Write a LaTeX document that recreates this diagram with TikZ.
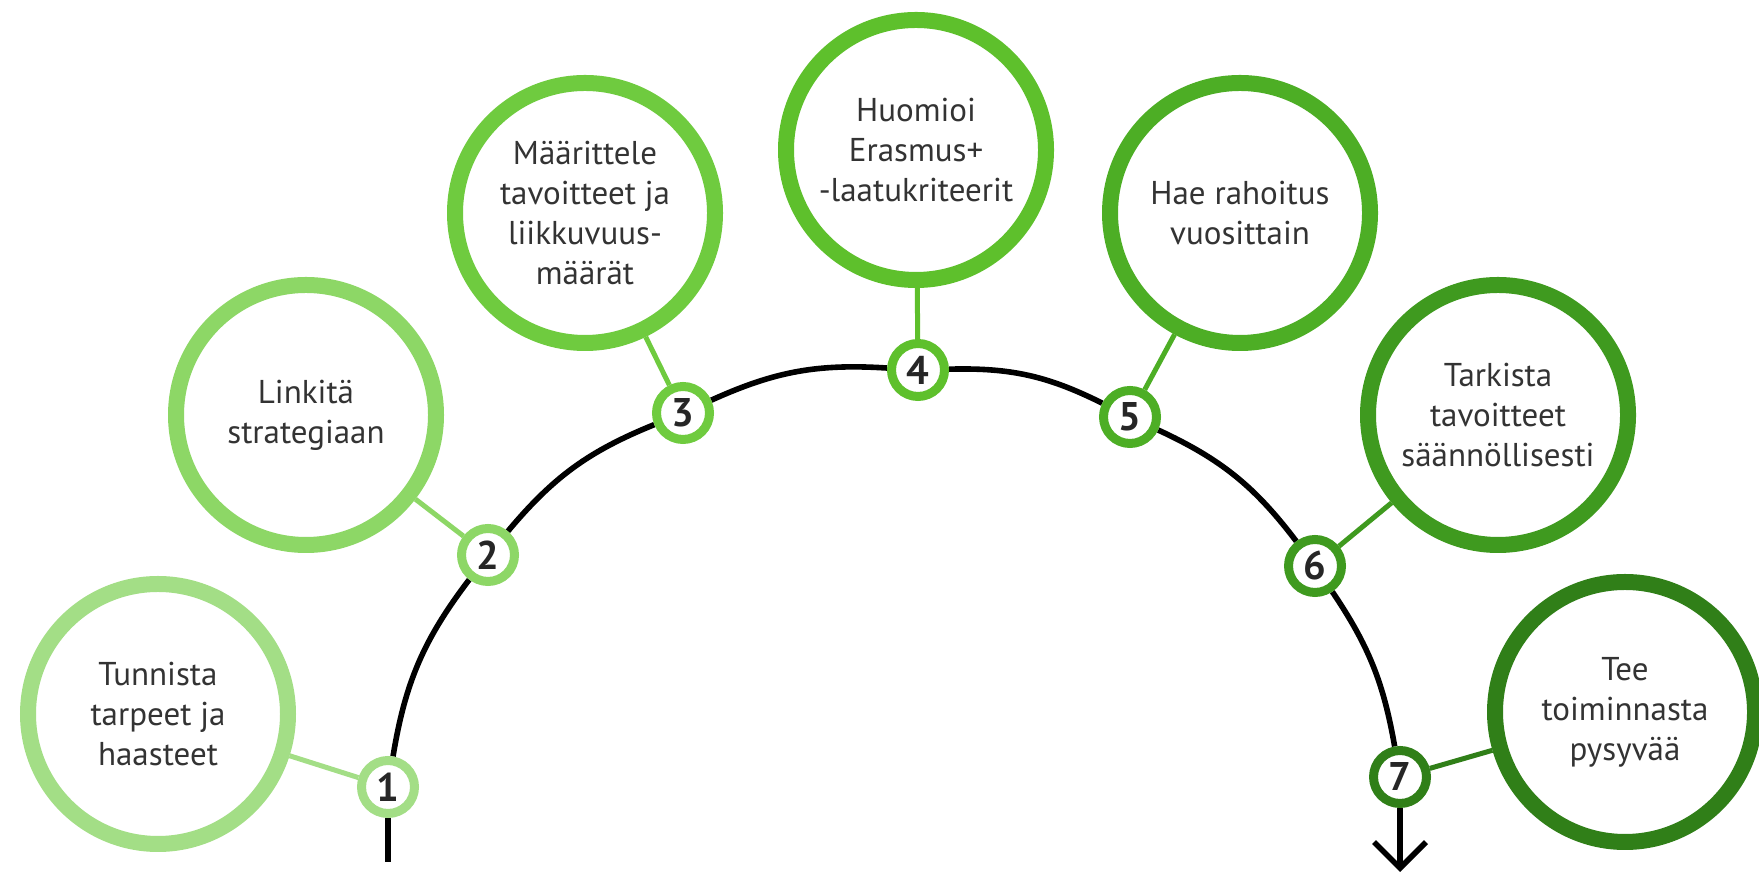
\documentclass[tikz,border=0pt]{standalone}
\usepackage{fontspec}
\setmainfont{PT Sans}
\usetikzlibrary{arrows.meta,backgrounds}
\definecolor{ga}{HTML}{A3DE86}
\definecolor{gb}{HTML}{8DD766}
\definecolor{gc}{HTML}{6FCB3F}
\definecolor{gd}{HTML}{5EC02C}
\definecolor{ge}{HTML}{4DAE25}
\definecolor{gf}{HTML}{3F9A1F}
\definecolor{gg}{HTML}{307F18}
\definecolor{txt}{HTML}{333333}
\begin{document}
\begin{tikzpicture}[x=0.5pt,y=0.5pt,
    bigring/.style={circle,draw=#1,line width=8pt,fill=white,minimum size=130pt,
      inner sep=0pt,align=center,text=txt,font=\fontsize{16.5}{20}\selectfont},
    numring/.style={circle,draw=#1,line width=4.5pt,fill=white,minimum size=26.5pt,
      inner sep=0pt,text=black!85,font=\fontsize{20}{20}\selectfont\bfseries},
    link/.style={draw=#1,line width=2.5pt}]
      \useasboundingbox (0,0) rectangle (1759,876);
      \draw
        (158,162) node[bigring=ga] (b1){Tunnista\\tarpeet ja\\haasteet}
        (306,461) node[bigring=gb] (b2){Linkitä\\strategiaan}
        (585,663) node[bigring=gc] (b3){Määrittele\\tavoitteet ja\\liikkuvuus-\\määrät}
        (916,726) node[bigring=gd] (b4){Huomioi\\Erasmus+\\-laatukriteerit}
        (1240,663) node[bigring=ge] (b5){Hae rahoitus\\vuosittain}
        (1498,461) node[bigring=gf] (b6){Tarkista\\tavoitteet\\säännöllisesti}
        (1625,164) node[bigring=gg] (b7){Tee\\toiminnasta\\pysyvää};
      \draw
        (388,89) node[numring=ga] (s1){1}
        (488,321) node[numring=gb] (s2){2}
        (683,463) node[numring=gc] (s3){3}
        (918,506) node[numring=gd] (s4){4}
        (1130,459) node[numring=ge] (s5){5}
        (1315,310) node[numring=gf] (s6){6}
        (1400,99) node[numring=gg] (s7){7};
      \coordinate (tail1) at (388,14);
      \coordinate (tail7) at (1400,4);
      \begin{pgfonlayer}{background}
        \begin{scope}[line width=2.8pt]
          \draw (tail1) -- (s1);
          \draw (s1) to[bend left=14] (s2);
          \draw (s2) to[bend left=14] (s3);
          \draw (s3) to[bend left=14] (s4);
          \draw (s4) to[bend left=14] (s5);
          \draw (s5) to[bend left=14] (s6);
          \draw (s6) to[bend left=12] (s7);
          \draw[-{Straight Barb[length=13pt,width=26pt]}] (s7) -- (tail7);
        \end{scope}
        \draw[link=ga] (s1) -- (b1);
        \draw[link=gb] (s2) -- (b2);
        \draw[link=gc] (s3) -- (b3);
        \draw[link=gd] (s4) -- (b4);
        \draw[link=ge] (s5) -- (b5);
        \draw[link=gf] (s6) -- (b6);
        \draw[link=gg] (s7) -- (b7);
      \end{pgfonlayer}
    \end{tikzpicture}
\end{document}
